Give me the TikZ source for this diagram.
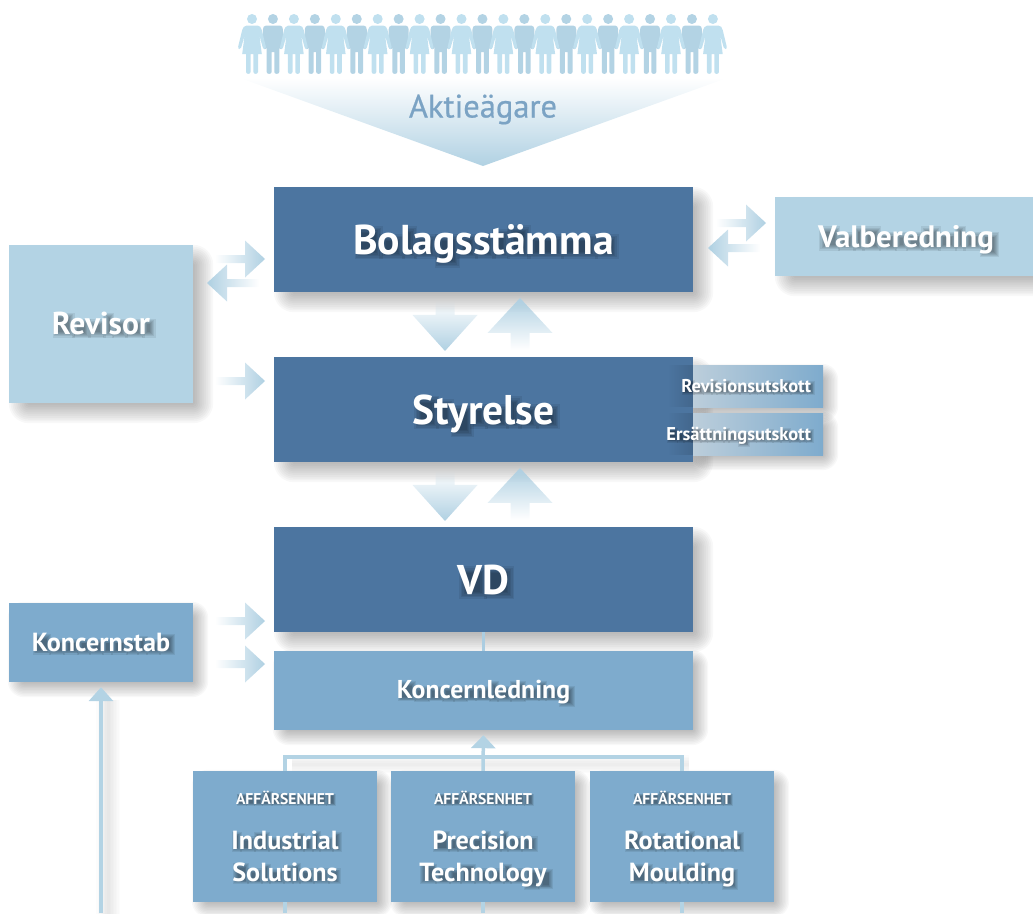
\documentclass[tikz,border=0pt]{standalone}
\usepackage{fontspec}
\setmainfont{PT Sans}
\newfontfamily\aktfont[FakeBold=0.6]{PT Sans}
\usetikzlibrary{arrows.meta,calc,fadings}
\definecolor{cdark}{HTML}{4C75A0}
\definecolor{cmid}{HTML}{7EABCD}
\definecolor{clight}{HTML}{B3D3E4}
\definecolor{cwoman}{HTML}{C0E0EF}
\definecolor{cakt}{HTML}{7BA3C4}
\definecolor{cgradA}{HTML}{BCCEDB}
\definecolor{cgradB}{HTML}{8FB3CF}
\pgfdeclarelayer{shadowlayer}
\pgfdeclarelayer{arrowlayer}
\pgfsetlayers{shadowlayer,arrowlayer,main}
\tikzfading[name=fadeE, left color=transparent!100, right color=transparent!0]
\tikzfading[name=fadeW, right color=transparent!100, left color=transparent!0]
\tikzfading[name=fadeS, top color=transparent!100, bottom color=transparent!0]
\tikzfading[name=fadeN, bottom color=transparent!100, top color=transparent!0]
\tikzset{
  boxbase/.style={rectangle, inner sep=0pt, text=white, font=\bfseries, align=center, text height=0pt, text depth=0pt},
  darkbox/.style={boxbase, fill=cdark},
  midbox/.style={boxbase, fill=cmid},
  lightbox/.style={boxbase, fill=clight},
  utskott/.style={rectangle, inner sep=0pt, text=white, text height=0pt, text depth=0pt, minimum width=130pt, minimum height=42pt, left color=cgradA, middle color=cgradB, right color=cmid, font=\bfseries\fontsize{18.5}{20}\selectfont},
  tlabel/.style={inner sep=0pt, text=white, anchor=base},
  conn/.style={draw=clight, line width=3.5pt},
  connshadow/.style={draw=black, opacity=.012},
  blockarrow/.style={fill=clight!92!cmid},
}
% text with a soft drop shadow made of drawn bars, one per letter
\newcommand{\shlayer}[1]{%
  \dimen2=\dimexpr\wd0-2\dimexpr#1em\relax\relax
  \dimen4=\dimexpr\ht0+\dp0-2\dimexpr#1em\relax\relax
  \ifdim\dimen2>0pt \ifdim\dimen4>0pt
  \rlap{\hspace*{\dimexpr#1em+0.075em\relax}\rule[\dimexpr-\dp0+#1em-0.075em\relax]{\dimen2}{\dimen4}}%
  \fi\fi}
\newcommand{\shblob}[1]{\setbox0\hbox{#1}%
  \shlayer{-0.04}\shlayer{0}\shlayer{0.035}\shlayer{0.07}\shlayer{0.1}\shlayer{0.13}%
  \kern\wd0 }
\makeatletter
\newcommand{\shtext}[1]{\leavevmode\rlap{\begin{pgfscope}\pgfsetfillopacity{0.075}\pgfsetstrokeopacity{0.075}\color{black}%
  \@tfor\sh@c:=#1\do{\expandafter\shblob\expandafter{\sh@c}}%
  \end{pgfscope}}#1}
\makeatother
\newcommand{\lbl}[2]{\raisebox{-#1pt}{\shtext{#2}}}
% offset, half-spread of the soft box shadow
\newcommand{\softshadow}[3]{%
  \begin{pgfonlayer}{shadowlayer}
  \foreach \k in {1,...,12}{
    \pgfmathsetmacro{\e}{(\k-6.5)*#3/5.5}
    \pgfmathsetmacro{\rr}{max(#3-\e,0.5)}
    \fill[black,opacity=.028,rounded corners=\rr pt] ($(#1.north west)+(#2+\e,#2+\e)$) rectangle ($(#1.south east)+(#2-\e,#2-\e)$);
  }
  \end{pgfonlayer}}
% block arrows: tip coordinate, then shape
\newcommand{\arrE}[1]{\fill[blockarrow,path fading=fadeE] ($(#1)+(-50,-4)$) -- ($(#1)+(-20,-4)$) -- ($(#1)+(-20,-18.5)$) -- (#1) -- ($(#1)+(-20,18.5)$) -- ($(#1)+(-20,4)$) -- ($(#1)+(-50,4)$) -- cycle;}
\newcommand{\arrW}[1]{\fill[blockarrow,path fading=fadeW] ($(#1)+(52,-4)$) -- ($(#1)+(20,-4)$) -- ($(#1)+(20,-18.5)$) -- (#1) -- ($(#1)+(20,18.5)$) -- ($(#1)+(20,4)$) -- ($(#1)+(52,4)$) -- cycle;}
\newcommand{\arrS}[1]{\fill[blockarrow,path fading=fadeS] ($(#1)+(-9.5,-51)$) -- ($(#1)+(9.5,-51)$) -- ($(#1)+(9.5,-36)$) -- ($(#1)+(32.5,-36)$) -- (#1) -- ($(#1)+(-32.5,-36)$) -- ($(#1)+(-9.5,-36)$) -- cycle;}
\newcommand{\arrN}[1]{\fill[blockarrow,path fading=fadeN] ($(#1)+(-9.5,52)$) -- ($(#1)+(9.5,52)$) -- ($(#1)+(9.5,35)$) -- ($(#1)+(32.5,35)$) -- (#1) -- ($(#1)+(-32.5,35)$) -- ($(#1)+(-9.5,35)$) -- cycle;}
\begin{document}
\begin{tikzpicture}[x=1pt,y=-1pt]
\useasboundingbox (0,0) rectangle (1033,913);

% ---- shareholders
\foreach \i in {0,...,22}{
  \pgfmathsetmacro{\cx}{252+\i*20.95}
  \pgfmathtruncatemacro{\odd}{mod(\i,2)}
  \ifnum\odd=1
  \begin{scope}[xshift=\cx pt,fill=clight]
    \fill (0,19) circle (5);
    \fill (-7,25.5) -- (7,25.5) .. controls (9,25.5) and (10,27.5) .. (10,29.5) -- (10,46.5) .. controls (10,50) and (6.3,50) .. (6.3,47) -- (6.3,72) .. controls (6.3,74.5) and (1.3,74.5) .. (1.3,72) -- (1.3,52) -- (-1.3,52) -- (-1.3,72) .. controls (-1.3,74.5) and (-6.3,74.5) .. (-6.3,72) -- (-6.3,47) .. controls (-6.3,50) and (-10,50) .. (-10,46.5) -- (-10,29.5) .. controls (-10,27.5) and (-9,25.5) .. (-7,25.5) -- cycle;
  \end{scope}
  \fi
}
\foreach \i in {0,...,22}{
  \pgfmathsetmacro{\cx}{252+\i*20.95}
  \pgfmathtruncatemacro{\odd}{mod(\i,2)}
  \ifnum\odd=0
  \begin{scope}[xshift=\cx pt,fill=cwoman]
    \fill (0,19) circle (5);
    \fill (-5.5,25.5) -- (5.5,25.5) .. controls (8,25.5) and (9,27.5) .. (9.8,30) -- (13.8,46.5) .. controls (14.3,49.5) and (11.4,50) .. (10.8,47.5) -- (7.4,35.5) -- (9.8,54) -- (6,54) -- (6,72) .. controls (6,74.5) and (1.4,74.5) .. (1.4,72) -- (1.4,54) -- (-1.4,54) -- (-1.4,72) .. controls (-1.4,74.5) and (-6,74.5) .. (-6,72) -- (-6,54) -- (-9.8,54) -- (-7.4,35.5) -- (-10.8,47.5) .. controls (-11.4,50) and (-14.3,49.5) .. (-13.8,46.5) -- (-9.8,30) .. controls (-9,27.5) and (-8,26) .. (-5.5,25.5) -- cycle;
  \end{scope}
  \fi
}
\shade[top color=white,bottom color=clight!95!cmid] (240,78) -- (727,78) -- (483,166) -- cycle;
\node (akt) [inner sep=0pt,text=cakt,anchor=base,font=\aktfont\fontsize{32.5}{34}\selectfont] at (483,117.5) {Aktieägare};

% ---- boxes
\node (bol) [darkbox,minimum width=419pt,minimum height=105pt,font=\bfseries\fontsize{41.7}{45}\selectfont] at (483.5,239.5) {\lbl{14.5}{Bolagsstämma}};
\node (sty) [darkbox,minimum width=419pt,minimum height=105pt,font=\bfseries\fontsize{41.5}{45}\selectfont] at (483.5,409.5) {\lbl{14.5}{Styrelse}};
\node (vd)  [darkbox,minimum width=419pt,minimum height=105pt,font=\bfseries\fontsize{41.5}{45}\selectfont] at (483.5,579.5) {\lbl{14.5}{VD}};
\node (kled) [midbox,minimum width=419pt,minimum height=79pt,font=\bfseries\fontsize{25.8}{29}\selectfont] at (483.5,690.5) {\lbl{8}{Koncernledning}};
\node (rev) [lightbox,minimum width=184pt,minimum height=158pt,font=\bfseries\fontsize{31.6}{33}\selectfont] at (101,324) {\lbl{10}{Revisor}};
\node (val) [lightbox,minimum width=258pt,minimum height=79pt,font=\bfseries\fontsize{31}{33}\selectfont] at (904,236.5) {\kern4pt\lbl{10.5}{Valberedning}};
\node (kst) [midbox,minimum width=184pt,minimum height=79pt,font=\bfseries\fontsize{26.2}{29}\selectfont] at (101,642.5) {\lbl{9}{Koncernstab}};

\foreach \nm/\cxx/\la/\lb in {ind/285/Industrial/Solutions,pre/483/Precision/Technology,rot/682/Rotational/Moulding}{
  \node (\nm) [midbox,minimum width=184pt,minimum height=131pt] at (\cxx,836.5) {};
  \node (\nm a) [tlabel,font=\bfseries\fontsize{15.6}{17}\selectfont] at (\cxx,804) {\shtext{AFFÄRSENHET}};
  \node (\nm b) [tlabel,font=\bfseries\fontsize{26.2}{30}\selectfont] at (\cxx,849) {\expandafter\shtext\expandafter{\la}};
  \node (\nm c) [tlabel,font=\bfseries\fontsize{26.2}{30}\selectfont] at (\cxx,881) {\expandafter\shtext\expandafter{\lb}};
}

% utskott: shadow spilling over the Styrelse box
\fill[black,opacity=.12,path fading=fadeE] (668,365) rectangle (693,407);
\fill[black,opacity=.12,path fading=fadeE] (668,413) rectangle (693,455);
\node (rut) [utskott] at (758,386) {\makebox[130pt][r]{\raisebox{-6.5pt}{\shtext{Revisionsutskott}}\kern12pt}};
\node (eut) [utskott] at (758,434) {\makebox[130pt][r]{\raisebox{-6.5pt}{\shtext{Ersättningsutskott}}\kern12pt}};

% ---- soft shadows
\foreach \nm in {bol,sty,vd,rev,val}{\softshadow{\nm}{10}{10}}
\foreach \nm in {kled,kst,ind,pre,rot,rut,eut}{\softshadow{\nm}{7}{8}}

% ---- named free ends
\coordinate (busy) at (483,757);
\coordinate (bkst) at (101,913);
\coordinate (bind) at (ind.south |- bkst);
\coordinate (bpre) at (pre.south |- bkst);
\coordinate (brot) at (rot.south |- bkst);

% ---- connector shadows
\begin{pgfonlayer}{shadowlayer}
  \foreach \w in {3,6,9,12,15,18,21,24}{
    \draw[connshadow,line width=\w pt] ([shift={(7,7)}]bkst) -- ([shift={(7,18)}]kst.south);
  }
  \foreach \w in {3,6,9,12,15,18}{
    \draw[connshadow,line width=\w pt] ([shift={(7,7)}]ind.north |- busy) -- ([shift={(7,7)}]rot.north |- busy);
  }
\end{pgfonlayer}

% ---- connectors
\begin{pgfonlayer}{arrowlayer}
  \draw[conn,draw=clight!85!cmid] (vd.south) -- (kled.north);
  \draw[conn] (ind.north) -- (ind.north |- busy) -- (rot.north |- busy) -- (rot.north);
  \draw[conn,-{Triangle[width=24pt,length=13pt]},shorten >=5pt] (pre.north) -- (kled.south);
  \draw[conn,-{Triangle[width=24pt,length=14pt]},shorten >=5pt] (bkst) -- (kst.south);
  \draw[conn] (ind.south) -- (bind);
  \draw[conn] (pre.south) -- (bpre);
  \draw[conn] (rot.south) -- (brot);
\end{pgfonlayer}

% ---- block arrows
\begin{pgfonlayer}{arrowlayer}
  \coordinate (t1) at (265,259);  \arrE{t1}
  \coordinate (t2) at (207,283);  \arrW{t2}
  \coordinate (t3) at (265,381);  \arrE{t3}
  \coordinate (t4) at (766,223);  \arrE{t4}
  \coordinate (t5) at (708,248);  \arrW{t5}
  \coordinate (t6) at (265,621);  \arrE{t6}
  \coordinate (t7) at (265,664);  \arrE{t7}
  \coordinate (t8) at (445,351);  \arrS{t8}
  \coordinate (t9) at (520,298);  \arrN{t9}
  \coordinate (t10) at (445,521); \arrS{t10}
  \coordinate (t11) at (520,468); \arrN{t11}
\end{pgfonlayer}
\end{tikzpicture}
\end{document}
